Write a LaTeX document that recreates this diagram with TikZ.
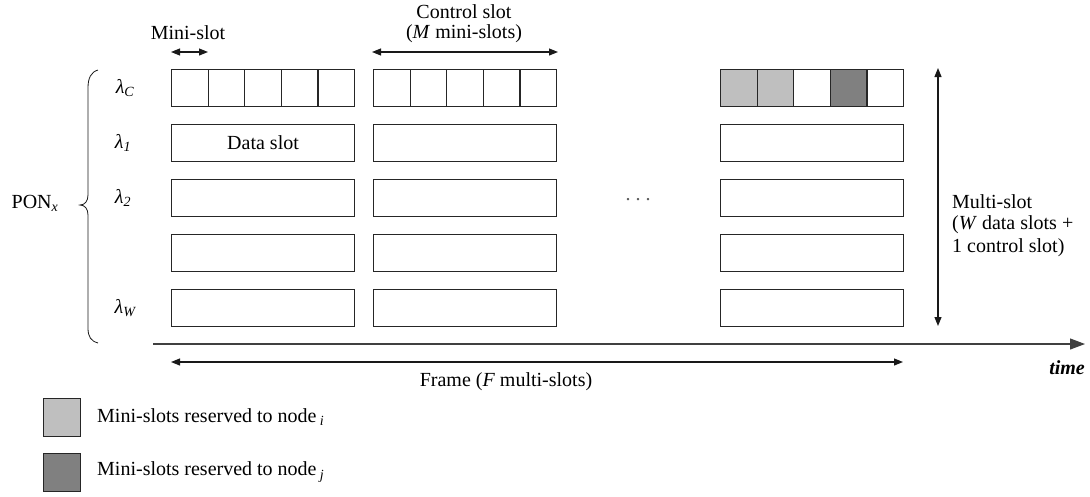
\documentclass[tikz,border=0pt]{standalone}
\usepackage{fontspec}
\setmainfont{Liberation Serif}
\usetikzlibrary{arrows.meta}
\begin{document}
\begin{tikzpicture}[x=1pt,y=-1pt,
  every node/.style={font=\fontsize{20}{23}\selectfont, inner sep=0pt},
  slotbox/.style={draw=black!85, line width=1.1pt, minimum width=183pt, minimum height=37pt, anchor=north west},
  cellbox/.style={draw=black!85, line width=1.1pt, minimum width=36.6pt, minimum height=37pt, anchor=north west},
  lightcell/.style={cellbox, fill=black!25},
  darkcell/.style={cellbox, fill=black!50},
  dimarrow/.style={line width=1.1pt, black!90, {Triangle[length=9pt,width=7pt]}-{Triangle[length=9pt,width=7pt]}},
  lbl/.style={anchor=center},
  legbox/.style={draw=black!85, line width=1.1pt, minimum width=37pt, minimum height=38pt, anchor=north west}
]
\useasboundingbox (0,0) rectangle (1090,496);

% control rows (mini-slots)
\foreach \i in {0,...,4}{
  \node[cellbox] (a\i) at ({171+36.6*\i},69) {};
  \node[cellbox] (b\i) at ({373+36.6*\i},69) {};
}
\node[lightcell] (c0) at (720,69) {};
\node[lightcell] (c1) at (756.6,69) {};
\node[cellbox]   (c2) at (793.2,69) {};
\node[darkcell]  (c3) at (829.8,69) {};
\node[cellbox]   (c4) at (866.4,69) {};

% data rows
\foreach \r/\y in {1/124,2/179,3/234,4/289}{
  \node[slotbox] (A\r) at (171,\y) {};
  \node[slotbox] (B\r) at (373,\y) {};
  \node[slotbox] (C\r) at (720,\y) {};
}
\node[lbl] (dslot) at (A1.center) {Data slot};

% wavelength labels
\node[lbl] (lc) at (125,88) {\itshape λ\textsubscript{C}};
\node[lbl] (l1) at (123,143) {\itshape λ\textsubscript{1}};
\node[lbl] (l2) at (123,198) {\itshape λ\textsubscript{2}};
\node[lbl] (lw) at (125,308) {\itshape λ\textsubscript{W}};

% PON label and brace
\node[lbl] (pon) at (35,203) {PON\textsubscript{\itshape x}};
\draw[line width=0.8pt, black!90] (98,70) .. controls (91,72) and (88,78) .. (88,88) -- (88,195)
  .. controls (88,201) and (85,205) .. (80,205)
  .. controls (85,205) and (88,209) .. (88,215) -- (88,328)
  .. controls (88,337) and (91,341) .. (98,343);

% dots
\node[lbl, text=black!65] (dots) at (638,200) {.\hspace{5pt}.\hspace{5pt}.};

% Mini-slot dimension
\node[lbl] (mstxt) at (188,33) {Mini-slot};
\coordinate (ms1) at (171,52);
\coordinate (ms2) at (208,52);
\draw[dimarrow] (ms1) -- (ms2);

% Control slot dimension
\node[lbl] (cstxt1) at (464,12) {Control slot};
\node[lbl] (cstxt2) at (464,34) {(\textit{M} mini-slots)};
\coordinate (cs1) at (372,52);
\coordinate (cs2) at (558,52);
\draw[dimarrow] (cs1) -- (cs2);

% Multi-slot dimension
\coordinate (mu1) at (938,68);
\coordinate (mu2) at (938,326);
\draw[dimarrow] (mu1) -- (mu2);
\node[anchor=west] (mutxt1) at (952,202) {Multi-slot};
\node[anchor=west] (mutxt2) at (952,225) {(\textit{W} data slots +};
\node[anchor=west] (mutxt3) at (952,248) {1 control slot)};

% time axis
\coordinate (t0) at (153,344);
\coordinate (t1) at (1085,344);
\draw[line width=1.1pt, black!75, -{Triangle[length=15pt,width=11pt]}] (t0) -- (t1);
\node[anchor=east] (time) at (1085,368) {\bfseries\itshape time};

% Frame dimension
\coordinate (f0) at (171,362);
\coordinate (f1) at (903,362);
\draw[dimarrow] (f0) -- (f1);
\node[lbl] (ftxt) at (506,382) {Frame (\textit{F} multi-slots)};

% legend
\node[legbox, fill=black!25] (leg1) at (43,398) {};
\node[legbox, fill=black!50] (leg2) at (43,453) {};
\node[anchor=west] (leg1t) at (97,417) {Mini-slots reserved to node\,\textsubscript{\itshape i}};
\node[anchor=west] (leg2t) at (97,472) {Mini-slots reserved to node\,\textsubscript{\itshape j}};
\end{tikzpicture}
\end{document}
